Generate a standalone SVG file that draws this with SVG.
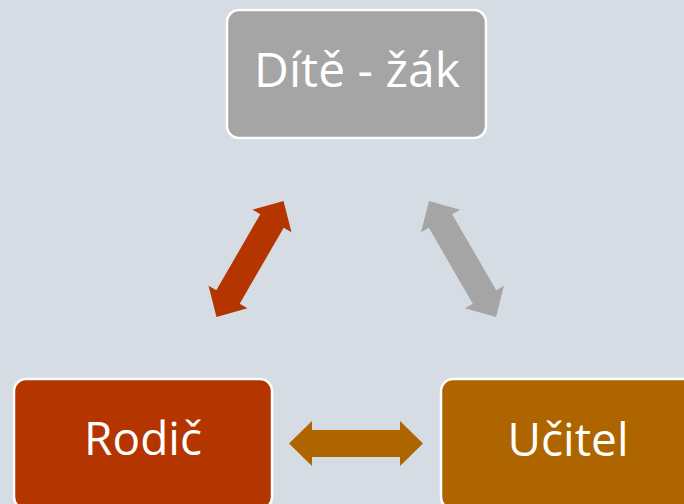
<svg xmlns="http://www.w3.org/2000/svg" width="684" height="504" viewBox="0 0 684 504">
<style>
.box{stroke:#FFFFFF;stroke-width:2.5}
.lbl{font-family:"Open Sans","Noto Sans",sans-serif;fill:#FFFFFF;text-anchor:middle}
</style>
<defs>
<polygon id="arr" points="-67,0 -44,-22.5 -44,-13.5 44,-13.5 44,-22.5 67,0 44,22.5 44,13.5 -44,13.5 -44,22.5"/>
</defs>
<rect width="684" height="504" fill="#D6DCE4"/>
<g id="connectors">
<use href="#arr" transform="translate(250,259) rotate(-60)" fill="#B53500"/>
<use href="#arr" transform="translate(462.5,259) rotate(60)" fill="#A5A5A5"/>
<use href="#arr" transform="translate(356,443.5)" fill="#AE6500"/>
</g>
<g id="node-dite">
<rect class="box" x="227" y="10" width="259" height="128" rx="12" fill="#A5A5A5"/>
<text class="lbl" x="357" y="87" font-size="48">Dítě - žák</text>
</g>
<g id="node-rodic">
<rect class="box" x="14" y="379" width="258" height="130" rx="12" fill="#B53500"/>
<text class="lbl" x="143" y="455" font-size="46">Rodič</text>
</g>
<g id="node-ucitel">
<rect class="box" x="441" y="379" width="258" height="130" rx="12" fill="#AE6500"/>
<text class="lbl" x="568" y="456" font-size="46">Učitel</text>
</g>
</svg>
